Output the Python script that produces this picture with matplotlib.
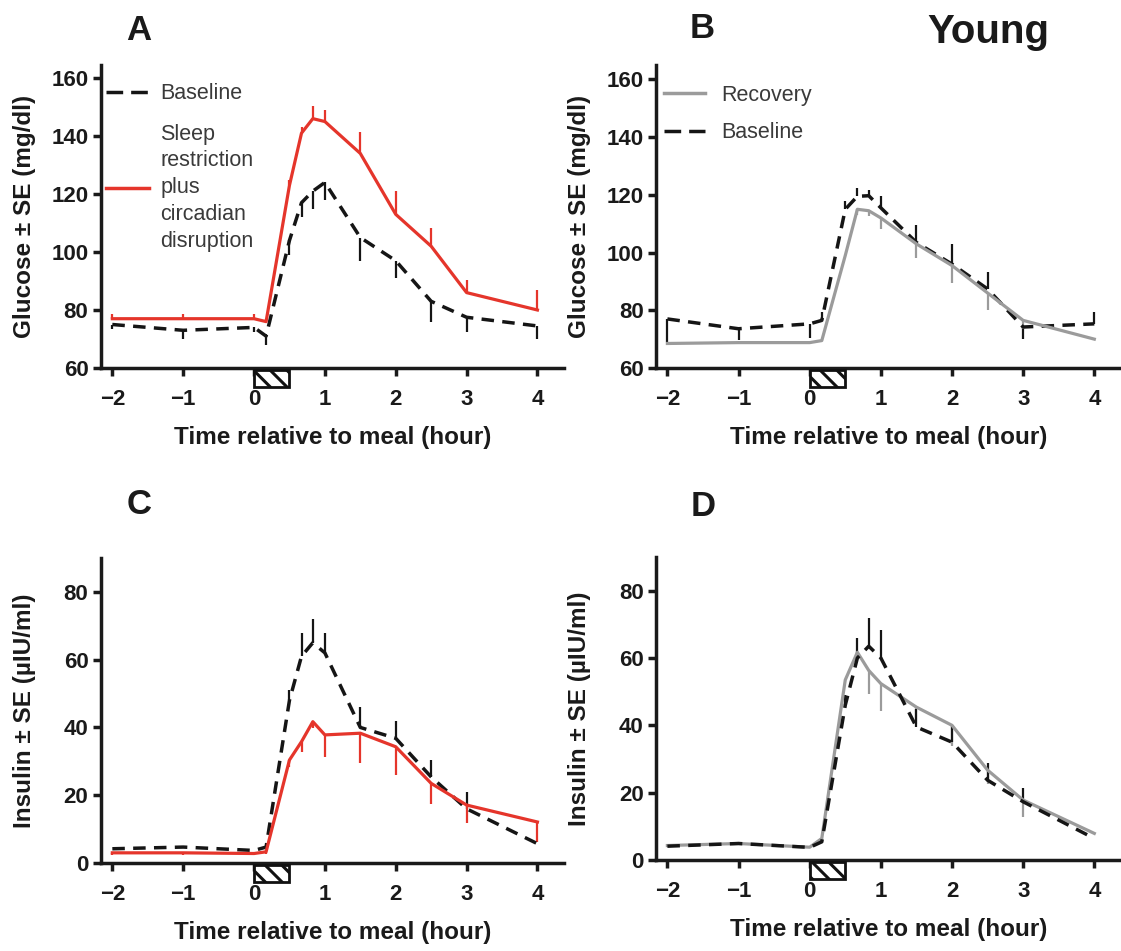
import matplotlib
matplotlib.use("Agg")
import matplotlib.pyplot as plt
import matplotlib.transforms as mtransforms
from matplotlib.patches import Rectangle
from matplotlib.lines import Line2D

plt.rcParams['font.family'] = ['Liberation Sans', 'DejaVu Sans']
plt.rcParams['font.weight'] = 'bold'
plt.rcParams['axes.labelweight'] = 'bold'
plt.rcParams['hatch.linewidth'] = 2.2

# time relative to meal (hours)
time_h = [-2, -1, 0, 0.17, 0.5, 0.67, 0.83, 1, 1.5, 2, 2.5, 3, 4]

# A: glucose, young, baseline vs sleep restriction + circadian disruption
glu_base_a = [75, 73, 74, 71, 104, 117, 121, 124, 105, 97, 83, 77.5, 74.5]
glu_base_a_lo = [1.5, 3, 1.5, 3, 5, 5, 6, 6, 8, 6, 7, 5, 4.5]
glu_sr_a = [77, 77, 77, 76, 123, 141, 146, 145, 134, 113, 102, 86, 80]
glu_sr_a_hi = [1.5, 1.5, 1.5, 1, 2, 2, 4.5, 4, 7.5, 8, 6.3, 4.5, 7]

# B: glucose, young, recovery vs baseline
glu_rec_b = [68.5, 68.8, 68.8, 69.5, 99, 115, 114.5, 112, 103, 95.5, 86, 76.5, 70]
glu_rec_b_lo = [0, 0, 0, 0, 0, 2, 2, 4, 5, 6, 6, 3, 0]
glu_base_b = [77, 73.6, 75.3, 76.5, 115, 119.5, 119.7, 115.5, 103.5, 96, 87.4, 74.2, 75.3]
glu_base_b_lo = [8, 4, 5, 0, 0, 0, 0, 0, 0, 0, 0, 4, 0]
glu_base_b_hi = [0, 0, 0, 3, 3, 3, 2, 4, 6, 7, 6, 0, 4]

# C: insulin, baseline vs sleep restriction + circadian disruption
ins_base_c = [4.2, 4.7, 3.7, 4.7, 48, 61, 65, 62, 40, 36.8, 25.4, 16, 5.7]
ins_base_c_hi = [0, 0, 0, 0, 3, 7, 7, 6, 6, 5, 5, 5, 0]
ins_sr_c = [3, 3, 2.8, 3.3, 30.4, 35.8, 41.7, 37.8, 38.3, 34.3, 23.5, 17.1, 12.1]
ins_sr_c_lo = [0.5, 0.5, 0.5, 0.5, 2, 3, 2, 6.4, 8.9, 8.4, 6, 5.4, 6]

# D: insulin, recovery vs baseline
ins_rec_d = [4.3, 4.9, 3.8, 6.4, 53.5, 61.7, 56.3, 52.4, 45.4, 40, 26.7, 17.8, 7.9]
ins_rec_d_lo = [0, 0, 0, 0, 0, 0, 7, 8, 5, 6, 4, 5, 0]
ins_base_d = [4.1, 4.9, 3.75, 5.4, 46, 60, 63.5, 60, 39.5, 35, 23.7, 17.3, 6.4]
ins_base_d_hi = [0, 0, 0, 0, 3, 6, 8.4, 8.4, 5.5, 5, 5, 4, 0]

zeros = [0] * len(time_h)

RED = '#e5352b'
GRAY = '#9b9b9b'
BLACK = '#151515'
DASH = (0, (3.6, 2.4))
LEG_DASH = (0, (4.8, 2.3))

fig = plt.figure(figsize=(11.21, 9.51), dpi=100)
W, H = 1121, 951


def make_axes(left, right, bottom, top):
    return fig.add_axes([left / W, 1 - bottom / H, (right - left) / W, (bottom - top) / H])


ax_a = make_axes(101, 564, 368, 65)
ax_b = make_axes(656, 1121, 368, 65)
ax_c = make_axes(101, 564, 863, 558)
ax_d = make_axes(656, 1121, 860, 557)


def style(ax, ylim, yticks, ylabel):
    ax.set_xlim(-2.16, 4.375)
    ax.set_ylim(*ylim)
    ax.set_yticks(yticks)
    ax.set_xticks([-2, -1, 0, 1, 2, 3, 4])
    for s in ['top', 'right']:
        ax.spines[s].set_visible(False)
    for s in ['left', 'bottom']:
        ax.spines[s].set_linewidth(2.5)
        ax.spines[s].set_color('#1a1a1a')
    ax.tick_params(axis='both', direction='out', length=6, width=2.5,
                   labelsize=16, colors='#1a1a1a')
    ax.tick_params(axis='x', pad=9)
    ax.tick_params(axis='y', pad=3)
    ax.set_xlabel('Time relative to meal (hour)', fontsize=17.5, color='#1a1a1a')
    ax.set_ylabel(ylabel, fontsize=17.5, color='#1a1a1a')
    ax.xaxis.set_label_coords(0.5, -0.19)
    ax.yaxis.set_label_coords(-0.14, 0.5)
    trans = mtransforms.blended_transform_factory(ax.transData, ax.transAxes)
    ax.add_patch(Rectangle((0, -0.063), 0.5, 0.056, transform=trans, facecolor='white',
                           edgecolor='#111111', lw=2.0, hatch='\\\\',
                           clip_on=False, zorder=6))


def series(ax, y, lo, hi, color, ls, lw):
    ax.errorbar(time_h, y, yerr=[lo, hi], fmt='none', ecolor=color,
                elinewidth=1.6, capsize=0, zorder=3)
    ax.plot(time_h, y, color=color, ls=ls, lw=lw, zorder=4)


def legend(ax, entries, anchor, hlen, hpad, lspace):
    handles = [Line2D([], [], color=c, lw=lw, ls=ls) for c, ls, lw in entries]
    labels = [e for e in legend_labels[ax]]
    leg = ax.legend(handles, labels, loc='upper left', bbox_to_anchor=anchor,
                    frameon=False, prop={'size': 15.5, 'weight': 'normal'},
                    labelcolor='#3a3a3a', handlelength=hlen, handletextpad=hpad,
                    labelspacing=lspace, borderaxespad=0, borderpad=0)
    for t in leg.get_texts():
        t.set_linespacing(1.36)


legend_labels = {
    ax_a: ['Baseline', 'Sleep\nrestriction\nplus\ncircadian\ndisruption'],
    ax_b: ['Recovery', 'Baseline'],
}

# Panel A
series(ax_a, glu_base_a, glu_base_a_lo, zeros, BLACK, DASH, 2.5)
series(ax_a, glu_sr_a, zeros, glu_sr_a_hi, RED, '-', 2.3)
style(ax_a, (60, 164.5), [60, 80, 100, 120, 140, 160], 'Glucose ± SE (mg/dl)')
legend(ax_a, [(BLACK, LEG_DASH, 2.5), (RED, '-', 2.5)], (0.01, 0.94), 2.0, 0.55, 0.9)

# Panel B
series(ax_b, glu_base_b, glu_base_b_lo, glu_base_b_hi, BLACK, DASH, 2.5)
series(ax_b, glu_rec_b, glu_rec_b_lo, zeros, GRAY, '-', 2.3)
style(ax_b, (60, 165), [60, 80, 100, 120, 140, 160], 'Glucose ± SE (mg/dl)')
legend(ax_b, [(GRAY, '-', 2.5), (BLACK, LEG_DASH, 2.5)], (0.017, 0.935), 1.9, 0.75, 0.78)

# Panel C
series(ax_c, ins_base_c, zeros, ins_base_c_hi, BLACK, DASH, 2.5)
series(ax_c, ins_sr_c, ins_sr_c_lo, zeros, RED, '-', 2.3)
style(ax_c, (0, 90), [0, 20, 40, 60, 80], 'Insulin ± SE (µIU/ml)')

# Panel D
series(ax_d, ins_rec_d, ins_rec_d_lo, zeros, GRAY, '-', 2.3)
series(ax_d, ins_base_d, zeros, ins_base_d_hi, BLACK, DASH, 2.5)
style(ax_d, (0, 90), [0, 20, 40, 60, 80], 'Insulin ± SE (µIU/ml)')

# panel letters
for txt, x, y, size in [('A', 139, 31, 25), ('B', 702, 29, 25), ('Young', 988, 32, 29),
                        ('C', 139, 505, 25), ('D', 703, 507, 25)]:
    fig.text(x / W, 1 - y / H, txt, fontsize=size, weight='bold', color='#1a1a1a',
             ha='center', va='center')

fig.savefig('out.png', dpi=100)
